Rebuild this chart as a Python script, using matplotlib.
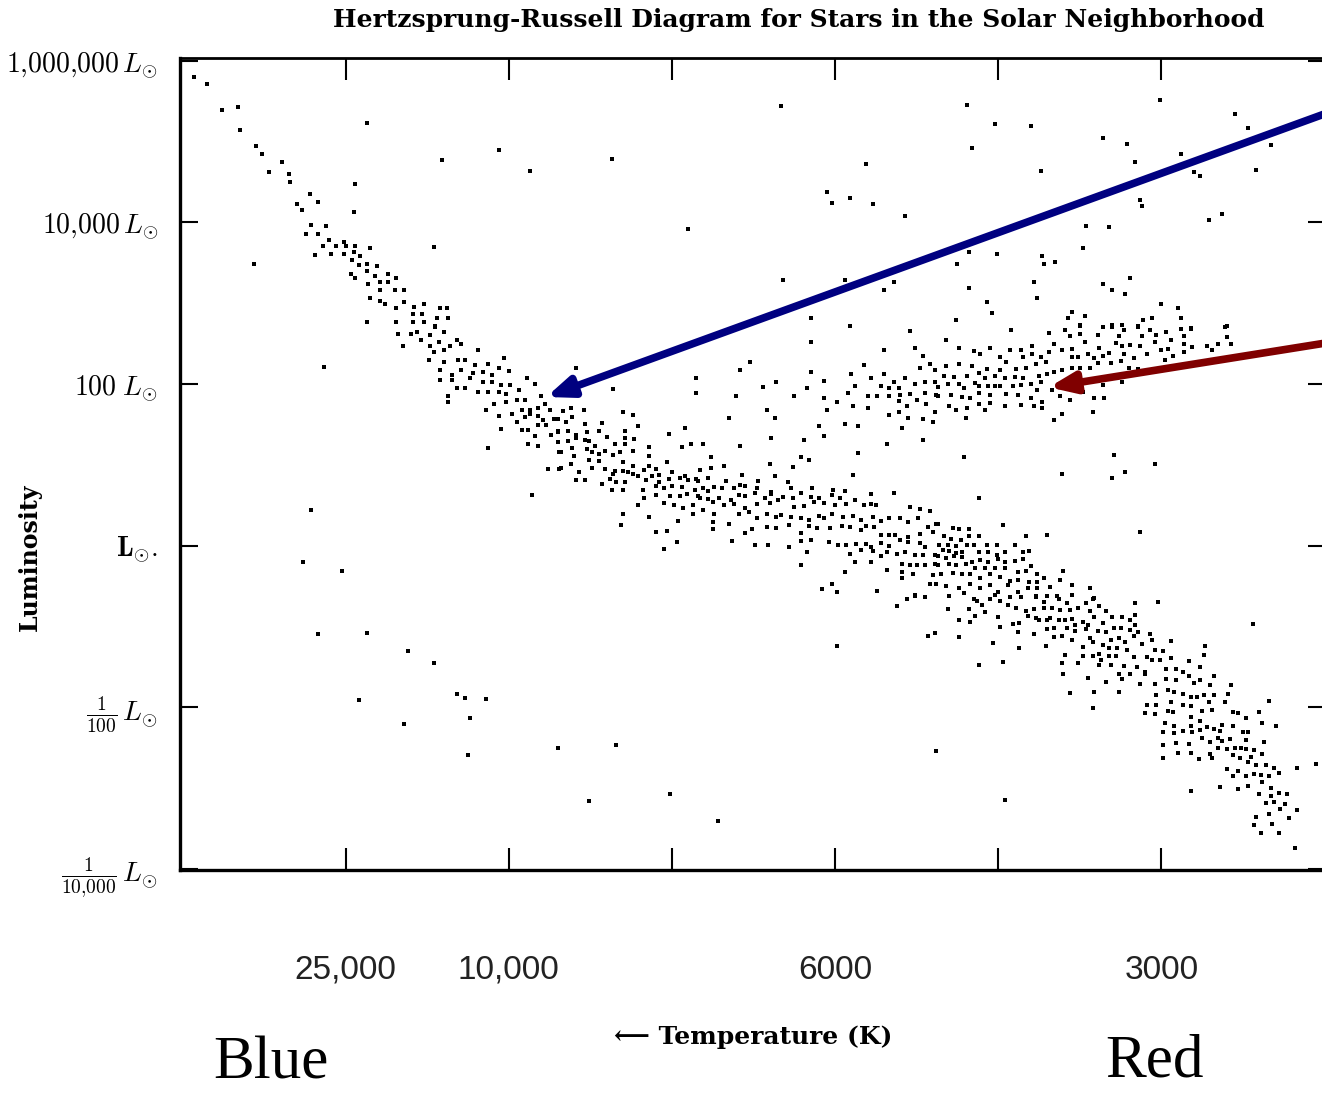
import matplotlib
matplotlib.use("Agg")
import matplotlib.pyplot as plt
import numpy as np

# ── Data: (temperature position, log10 L/Lsun) ──
# x: position along the temperature axis, tick units (1 = 25,000 K ... 6 = 3000 K)

upper_main_sequence = [
    [0.07, 5.80], [0.15, 5.71], [0.24, 5.39], [0.34, 5.43], [0.35, 5.14], [0.45, 4.95],
    [0.49, 4.85], [0.61, 4.75], [0.53, 4.62], [0.65, 4.60], [0.66, 4.50], [0.78, 4.35],
    [0.83, 4.25], [0.70, 4.23], [0.73, 4.15], [0.79, 3.97], [0.88, 3.96], [0.76, 3.86],
    [0.83, 3.86], [0.90, 3.78], [0.86, 3.71], [0.94, 3.71], [0.99, 3.76], [1.00, 3.71],
    [1.06, 3.71], [1.15, 3.68], [0.81, 3.60], [0.91, 3.61], [0.99, 3.61], [1.05, 3.63],
    [1.09, 3.58], [1.04, 3.53], [1.08, 3.47], [1.13, 3.49], [1.19, 3.46], [1.13, 3.40],
    [1.03, 3.36], [1.06, 3.31], [1.18, 3.34], [1.26, 3.36], [1.31, 3.31], [1.14, 3.24],
    [1.21, 3.26], [1.26, 3.26], [1.30, 3.16], [1.36, 3.16], [1.21, 3.16], [1.15, 3.06],
    [1.21, 3.03], [1.24, 2.99], [1.36, 3.01], [1.42, 2.95], [1.48, 2.99], [1.31, 2.94],
    [1.41, 2.87], [1.47, 2.87], [1.58, 2.94], [1.62, 2.94], [1.63, 2.82], [1.56, 2.82],
    [1.13, 2.77], [1.31, 2.77], [1.41, 2.77], [1.48, 2.77], [1.55, 2.72],
    [1.32, 2.62], [1.40, 2.62], [1.44, 2.64], [1.52, 2.61], [1.55, 2.71], [1.60, 2.64],
    [1.35, 2.47], [1.46, 2.54], [1.52, 2.47], [1.54, 2.40], [1.57, 2.52], [1.60, 2.42],
    [1.64, 2.47], [1.68, 2.54], [1.71, 2.50], [1.81, 2.42], [1.51, 2.30], [1.60, 2.27],
    [1.69, 2.30], [1.73, 2.30], [1.71, 2.17], [1.79, 2.24], [1.87, 2.25], [1.94, 2.20],
    [1.97, 2.32], [1.58, 2.17], [1.65, 2.11], [1.78, 2.14], [1.84, 2.15], [1.90, 2.11],
    [2.00, 2.16], [1.58, 2.05], [1.65, 2.05], [1.76, 2.07], [1.84, 2.02], [1.90, 2.02],
    [1.95, 1.99], [2.01, 1.99], [2.11, 2.07], [2.16, 2.00], [1.68, 1.95], [1.73, 1.95],
    [1.81, 1.90], [1.87, 1.90], [1.94, 1.90], [1.98, 1.88], [2.06, 1.93], [2.20, 1.85],
    [1.63, 1.85], [1.63, 1.78], [1.91, 1.75], [1.98, 1.78], [2.05, 1.80], [2.10, 1.80],
    [2.22, 1.75], [1.86, 1.68], [1.94, 1.60], [2.02, 1.63], [2.08, 1.68], [2.13, 1.68],
    [2.18, 1.70], [2.25, 1.68], [2.05, 1.53], [2.10, 1.59], [2.13, 1.63], [2.18, 1.60],
    [2.21, 1.55], [2.28, 1.57], [2.08, 1.43], [2.12, 1.43], [2.18, 1.49], [2.23, 1.49],
    [2.26, 1.37], [2.30, 1.41], [1.95, 1.44], [2.16, 1.36], [2.12, 1.26], [2.18, 1.23],
    [1.87, 1.21], [2.30, 1.28], [2.31, 1.16], [2.24, 0.95], [2.31, 0.95], [2.14, 0.63],
]

main_sequence = [
    [2.33, 1.67], [2.38, 1.70], [2.46, 1.68], [2.70, 1.65], [2.76, 1.62], [2.30, 1.57],
    [2.35, 1.53], [2.39, 1.59], [2.47, 1.50], [2.57, 1.52], [2.79, 1.48], [2.30, 1.42],
    [2.36, 1.42], [2.41, 1.37], [2.48, 1.41], [2.55, 1.42], [2.71, 1.42], [2.98, 1.38],
    [2.30, 1.28], [2.36, 1.30], [2.41, 1.33], [2.47, 1.31], [2.49, 1.30], [2.53, 1.23],
    [2.60, 1.34], [2.65, 1.26], [2.71, 1.33], [2.77, 1.32], [2.71, 1.26], [2.86, 1.22],
    [3.06, 1.22], [3.12, 1.26], [3.19, 1.26], [3.42, 1.23], [3.61, 1.33], [3.93, 1.36],
    [3.81, 1.31], [4.32, 1.26], [4.54, 1.31],
    [2.32, 1.16], [2.39, 1.21], [2.48, 1.20], [2.51, 1.16], [2.55, 1.13], [2.59, 1.17],
    [2.68, 1.16], [2.76, 1.17], [2.40, 1.11], [2.49, 1.06], [2.55, 1.05], [2.64, 1.12],
    [2.70, 1.03], [2.76, 0.99], [2.86, 1.11], [2.86, 0.99], [3.24, 1.10], [2.97, 1.03],
    [2.38, 1.01], [2.32, 0.96], [2.51, 0.96], [2.59, 0.95], [2.65, 0.92], [2.70, 0.92],
    [2.73, 0.91], [3.17, 0.93], [3.24, 0.96], [3.32, 0.98], [3.60, 1.01], [3.74, 0.97],
    [3.79, 1.10], [3.84, 1.06], [4.14, 1.15], [4.11, 0.87],
    [2.43, 0.91], [2.64, 0.89], [2.76, 0.89], [2.79, 0.86], [2.83, 0.94], [2.90, 0.95],
    [2.88, 0.86], [2.92, 0.88], [3.00, 0.91], [3.08, 0.86], [3.15, 0.82], [2.41, 0.81],
    [2.47, 0.81], [2.57, 0.76], [2.62, 0.83], [2.66, 0.79], [2.71, 0.79], [2.84, 0.81],
    [2.92, 0.79], [2.98, 0.82], [3.05, 0.84], [3.10, 0.81], [3.16, 0.80], [3.22, 0.84],
    [3.26, 0.73], [3.33, 0.80], [3.43, 0.87], [3.42, 0.75], [3.53, 0.80], [3.63, 0.86],
    [3.71, 0.79],
    [2.63, 0.69], [2.70, 0.69], [2.82, 0.69], [2.90, 0.74], [2.95, 0.71], [3.00, 0.74],
    [3.06, 0.72], [3.14, 0.69], [3.19, 0.71], [3.22, 0.68], [3.31, 0.71], [3.38, 0.71],
    [3.45, 0.74], [3.52, 0.71], [3.61, 0.66], [3.73, 0.71], [3.86, 0.71], [3.99, 0.69],
    [4.06, 0.68], [4.36, 0.65], [4.22, 0.64],
    [2.83, 0.59], [2.90, 0.63], [2.99, 0.61], [3.05, 0.61], [3.09, 0.64], [3.16, 0.61],
    [3.22, 0.58], [3.29, 0.59], [3.36, 0.56], [3.41, 0.63], [3.45, 0.61], [3.51, 0.65],
    [3.57, 0.59], [3.61, 0.64], [3.68, 0.60], [3.74, 0.59], [3.79, 0.65], [3.85, 0.60],
    [3.90, 0.59], [3.98, 0.63], [4.03, 0.59], [4.12, 0.56], [4.22, 0.51],
    [2.79, 0.50], [2.95, 0.53], [3.01, 0.50], [3.07, 0.47], [3.13, 0.50], [3.17, 0.59],
    [3.25, 0.54], [3.32, 0.50], [3.38, 0.51], [3.45, 0.46], [3.52, 0.51], [3.60, 0.53],
    [3.65, 0.56], [3.75, 0.48], [3.81, 0.49], [3.87, 0.54], [3.93, 0.53], [4.00, 0.50],
    [4.07, 0.51], [4.18, 0.50], [4.25, 0.50], [4.46, 0.48], [4.52, 0.45], [4.58, 0.43],
    [2.70, 0.39], [2.86, 0.35], [3.04, 0.30], [3.13, 0.39], [3.19, 0.44], [3.25, 0.29],
    [3.26, 0.39], [3.35, 0.27], [3.41, 0.39], [3.47, 0.42], [3.52, 0.34], [3.58, 0.39],
    [3.64, 0.35], [3.67, 0.38], [3.73, 0.35], [3.79, 0.34], [3.84, 0.32], [3.90, 0.37],
    [3.93, 0.34], [3.98, 0.39], [4.05, 0.35], [4.11, 0.37], [4.16, 0.32], [4.23, 0.35],
    [4.28, 0.30], [4.33, 0.34], [4.40, 0.34], [4.45, 0.29], [4.51, 0.34], [4.62, 0.27],
    [4.57, 0.23],
    [2.69, 0.25], [2.90, 0.17], [2.97, 0.18], [3.25, 0.20], [3.45, 0.16], [3.49, 0.20],
    [3.58, 0.23], [3.64, 0.22], [3.72, 0.25], [3.79, 0.16], [3.84, 0.24], [3.89, 0.22],
    [3.97, 0.22], [4.04, 0.24], [4.09, 0.23], [4.16, 0.19], [4.19, 0.24], [4.24, 0.23],
    [4.28, 0.13], [4.33, 0.13], [4.37, 0.13], [4.45, 0.11], [4.52, 0.14], [4.60, 0.17],
    [3.37, 0.06], [3.03, 0.04], [3.51, 0.01], [3.59, 0.01], [3.72, -0.02], [3.79, 0.06],
    [3.85, 0.07], [3.96, 0.04], [4.02, 0.01], [4.07, 0.01], [4.13, 0.02], [4.19, 0.02],
    [4.22, -0.02], [4.28, 0.03], [4.33, -0.01], [4.40, 0.07], [4.45, 0.04], [4.52, 0.03],
    [4.55, -0.02],
    [2.95, -0.04], [3.83, -0.08], [4.09, -0.10], [4.16, -0.05], [4.23, -0.07], [4.28, -0.13],
    [4.32, -0.08], [4.38, -0.10], [4.43, -0.08], [4.49, -0.11], [4.54, -0.11], [4.61, -0.11],
    [3.79, -0.24], [4.12, -0.20], [4.22, -0.20], [4.32, -0.30], [4.41, -0.23], [4.46, -0.24],
    [4.50, -0.24], [4.55, -0.24], [4.61, -0.23], [4.06, -0.33], [4.41, -0.33], [4.48, -0.35],
    [4.60, -0.36], [4.41, -0.40], [4.58, -0.48], [3.98, -0.48], [3.92, -0.54], [4.01, -0.58],
    [4.26, -0.56], [4.49, -0.61], [4.55, -0.63], [4.44, -0.66],
]

lower_main_sequence = [
    [4.63, 0.27], [4.72, 0.22], [4.76, 0.21], [4.82, 0.21], [4.82, 0.12], [4.88, 0.12],
    [5.03, 0.25], [5.17, 0.12], [5.30, 0.13], [5.87, 0.17], [4.67, 0.12], [4.71, 0.08],
    [4.77, 0.07], [4.64, 0.01], [4.69, 0.01], [4.74, -0.01], [4.81, 0.01], [4.85, 0.01],
    [4.93, 0.01], [4.99, 0.01], [5.10, 0.01], [4.66, -0.05], [4.70, -0.07], [4.74, -0.09],
    [4.78, -0.08], [4.88, -0.08], [4.94, -0.08], [4.99, -0.12], [5.04, -0.08], [5.15, -0.08],
    [5.19, -0.07], [4.63, -0.13], [4.68, -0.15], [4.73, -0.13], [4.78, -0.14], [4.84, -0.20],
    [4.89, -0.18], [4.94, -0.20], [5.00, -0.17], [5.04, -0.20], [5.10, -0.19], [5.15, -0.17],
    [5.20, -0.25], [4.63, -0.24], [4.70, -0.23], [4.74, -0.24], [4.80, -0.23], [4.86, -0.28],
    [4.92, -0.28], [4.98, -0.28], [5.04, -0.28], [5.12, -0.33], [5.17, -0.31], [5.24, -0.35],
    [5.28, -0.40], [5.40, -0.31], [4.65, -0.35], [4.72, -0.34], [4.78, -0.35], [4.83, -0.35],
    [4.89, -0.40], [4.95, -0.35], [5.01, -0.39], [5.07, -0.44], [5.12, -0.43], [5.19, -0.45],
    [5.24, -0.45], [5.32, -0.51], [5.38, -0.43], [5.45, -0.49], [4.62, -0.48], [4.68, -0.50],
    [4.76, -0.53], [4.83, -0.48], [4.89, -0.53], [4.95, -0.49], [5.00, -0.58], [5.06, -0.49],
    [5.12, -0.58], [5.18, -0.53], [5.24, -0.53], [5.30, -0.62], [5.36, -0.62], [5.45, -0.61],
    [5.56, -0.52], [5.58, -0.66], [4.70, -0.62], [4.79, -0.59], [4.85, -0.66], [4.98, -0.61],
    [5.07, -0.63], [5.14, -0.63], [5.23, -0.62],
    [4.38, -0.75], [4.44, -0.66], [4.49, -0.62], [4.55, -0.64],
    [4.69, -0.78], [4.82, -0.78], [4.87, -0.69], [4.90, -0.74], [4.95, -0.66], [5.01, -0.69],
    [5.06, -0.74], [5.11, -0.77], [5.17, -0.81], [5.22, -0.78], [5.23, -0.64], [5.28, -0.77],
    [5.28, -0.70], [5.33, -0.77], [5.37, -0.66], [5.38, -0.80], [5.42, -0.71], [5.44, -0.80],
    [5.49, -0.77], [5.54, -0.71], [5.59, -0.65], [5.62, -0.75], [5.56, -0.81], [5.66, -0.81],
    [5.84, -0.71], [5.98, -0.70], [5.84, -0.86],
    [4.76, -0.92], [4.83, -0.95], [4.86, -0.87], [4.92, -0.82], [5.00, -0.88], [5.01, -1.01],
    [5.09, -0.97], [5.13, -0.96], [5.18, -0.87], [5.23, -0.90], [5.25, -0.92], [5.30, -0.92],
    [5.32, -0.90], [5.37, -0.92], [5.41, -0.92], [5.45, -0.91], [5.47, -0.98], [5.52, -0.95],
    [5.55, -0.98], [5.59, -0.88], [5.64, -0.96], [5.70, -0.88], [5.76, -0.88], [5.81, -0.92],
    [5.84, -0.98], [5.12, -1.07], [5.22, -1.09], [5.30, -1.03], [5.34, -1.02], [5.42, -1.02],
    [5.47, -1.06], [5.54, -1.03], [5.61, -1.06], [5.66, -1.07], [5.71, -1.02], [5.75, -1.02],
    [5.81, -1.04], [5.86, -1.07], [5.93, -1.09], [4.76, -1.13],
    [4.97, -1.21], [5.13, -1.27], [5.29, -1.24], [5.34, -1.13], [5.39, -1.12], [5.45, -1.17],
    [5.52, -1.26], [5.56, -1.14], [5.58, -1.19], [5.64, -1.23], [5.69, -1.17], [5.74, -1.14],
    [5.78, -1.19], [5.83, -1.12], [5.88, -1.22], [5.94, -1.17], [5.96, -1.29], [6.01, -1.30],
    [6.06, -1.18], [6.27, -1.24], [5.68, -1.27], [5.73, -1.27], [5.58, -1.37], [5.62, -1.34],
    [5.63, -1.42], [5.41, -1.35], [5.52, -1.37], [5.68, -1.37], [5.72, -1.37], [5.79, -1.29],
    [5.83, -1.38], [5.91, -1.38], [5.94, -1.42], [5.99, -1.42], [6.06, -1.39], [6.17, -1.43],
    [6.26, -1.35], [5.39, -1.45], [5.49, -1.45], [5.62, -1.48], [5.69, -1.48], [5.77, -1.49],
    [5.85, -1.50], [5.90, -1.56], [6.03, -1.53], [6.09, -1.53], [6.13, -1.56], [6.24, -1.50],
    [4.88, -1.48], [5.03, -1.44], [5.40, -1.59], [5.55, -1.64], [5.66, -1.69], [5.74, -1.59],
    [5.76, -1.65], [5.81, -1.59], [5.87, -1.71], [5.90, -1.59], [5.96, -1.71], [6.03, -1.65],
    [6.09, -1.66], [6.17, -1.61], [6.20, -1.70], [6.24, -1.66], [6.30, -1.73], [6.32, -1.61],
    [6.43, -1.73],
    [5.44, -1.82], [5.59, -1.81], [5.74, -1.81], [5.97, -1.85], [6.04, -1.79], [6.08, -1.81],
    [6.13, -1.84], [6.18, -1.87], [6.22, -1.87], [6.26, -1.85], [6.32, -1.85], [6.41, -1.84],
    [6.66, -1.92], [5.58, -2.01], [5.91, -1.97], [5.97, -1.97], [5.90, -2.07], [5.96, -2.08],
    [6.06, -1.94], [6.13, -1.97], [6.18, -1.99], [6.25, -2.05], [6.29, -1.94], [6.31, -2.04],
    [6.39, -1.94], [6.44, -2.06], [6.47, -2.07], [6.52, -2.13], [6.60, -2.06], [6.04, -2.05],
    [6.07, -2.06], [6.18, -2.12], [6.24, -2.17],
    [6.02, -2.20], [6.08, -2.23], [6.13, -2.29], [6.18, -2.23], [6.19, -2.31], [6.24, -2.28],
    [6.28, -2.25], [6.32, -2.27], [6.37, -2.22], [6.36, -2.29], [6.44, -2.23], [6.50, -2.31],
    [6.53, -2.31], [6.62, -2.20], [6.70, -2.23], [6.01, -2.31], [6.08, -2.32], [6.01, -2.47],
    [6.09, -2.44], [6.17, -2.46], [6.25, -2.38], [6.30, -2.43], [6.35, -2.38], [6.37, -2.42],
    [6.42, -2.39], [6.52, -2.41], [6.63, -2.43],
    [6.01, -2.63], [6.10, -2.57], [6.18, -2.57], [6.23, -2.64], [6.30, -2.58], [6.31, -2.63],
    [6.35, -2.51], [6.40, -2.52], [6.45, -2.51], [6.49, -2.51], [6.52, -2.52], [6.57, -2.53],
    [6.44, -2.59], [6.48, -2.63], [6.55, -2.62], [6.62, -2.58], [6.53, -2.68], [6.58, -2.72],
    [6.64, -2.72], [6.69, -2.75], [6.40, -2.76], [6.47, -2.79], [6.83, -2.75], [6.95, -2.70],
    [6.44, -2.85], [6.52, -2.85], [6.57, -2.83], [6.61, -2.84], [6.66, -2.85], [6.72, -2.81],
    [6.18, -3.04], [6.36, -2.99], [6.47, -3.01], [6.53, -2.98], [6.62, -2.93], [6.67, -3.00],
    [6.60, -3.07], [6.67, -3.10], [6.72, -3.06], [6.77, -3.07], [6.64, -3.19], [6.69, -3.17],
    [6.76, -3.20], [6.73, -3.26], [6.83, -3.27], [6.66, -3.32], [6.78, -3.37], [6.58, -3.36],
    [6.57, -3.46], [6.68, -3.45], [6.61, -3.56], [6.72, -3.56], [6.82, -3.74],
]

giants = [
    [5.08, 2.67], [5.31, 2.63], [5.41, 2.67], [5.44, 2.59], [5.50, 2.62], [5.50, 2.72],
    [5.61, 2.61], [5.64, 2.70], [5.70, 2.70], [5.74, 2.60], [5.77, 2.67], [5.86, 2.70],
    [5.88, 2.59], [5.93, 2.67], [5.97, 2.61], [6.03, 2.64], [6.12, 2.68], [6.18, 2.68],
    [6.14, 2.59], [6.39, 2.71], [6.40, 2.58], [4.68, 2.54], [4.76, 2.45], [4.85, 2.41],
    [4.89, 2.37], [4.95, 2.45], [5.01, 2.33], [5.07, 2.42], [5.14, 2.42], [5.15, 2.33],
    [5.21, 2.47], [5.21, 2.37], [5.26, 2.33], [5.31, 2.40], [5.34, 2.50], [5.39, 2.42],
    [5.45, 2.43], [5.45, 2.33], [5.49, 2.33], [5.53, 2.52], [5.55, 2.37], [5.59, 2.32],
    [5.62, 2.45], [5.64, 2.35], [5.68, 2.38], [5.72, 2.51], [5.76, 2.47], [5.77, 2.37],
    [5.81, 2.48], [5.83, 2.32], [5.87, 2.47], [5.91, 2.37], [5.96, 2.52], [6.00, 2.42],
    [6.04, 2.43], [6.07, 2.35], [6.14, 2.40], [6.19, 2.46], [6.14, 2.50], [6.28, 2.47],
    [6.31, 2.42], [6.35, 2.50], [6.43, 2.50], [6.06, 2.54], [6.02, 2.30],
    [4.61, 2.17], [4.68, 2.22], [4.76, 2.25], [4.84, 2.22], [4.93, 2.19], [5.01, 2.17],
    [5.05, 2.27], [5.11, 2.19], [5.17, 2.20], [5.23, 2.25], [5.29, 2.27], [5.34, 2.15],
    [5.39, 2.17], [5.45, 2.20], [5.50, 2.20], [5.56, 2.20], [5.61, 2.26], [5.69, 2.26],
    [5.75, 2.28], [5.80, 2.20], [5.86, 2.19], [4.67, 2.10], [4.73, 2.09], [4.81, 2.10],
    [4.88, 2.14], [4.92, 2.07], [4.98, 2.10], [5.04, 2.07], [5.10, 2.09], [5.15, 2.07],
    [5.25, 2.10], [5.30, 2.12], [4.63, 1.96], [4.69, 2.00], [4.76, 2.00], [4.79, 1.95],
    [4.86, 2.01], [4.88, 1.98], [4.94, 1.98], [4.98, 1.98], [5.01, 1.98], [5.09, 1.98],
    [5.14, 1.99], [5.20, 2.00], [5.26, 2.02], [5.64, 1.99], [5.76, 2.02], [4.63, 1.85],
    [4.71, 1.86], [4.78, 1.84], [4.83, 1.83], [4.88, 1.89], [4.95, 1.86], [5.05, 1.88],
    [5.12, 1.86], [5.20, 1.83], [5.24, 1.93], [5.33, 1.93], [5.38, 1.85], [5.44, 1.80],
    [5.52, 1.90], [5.59, 1.83], [5.65, 1.83], [4.70, 1.73], [4.74, 1.68], [4.81, 1.70],
    [4.88, 1.75], [4.92, 1.68], [4.95, 1.76], [5.04, 1.73], [5.14, 1.74], [5.22, 1.73],
    [5.27, 1.78], [5.27, 1.70], [4.80, 1.58], [5.34, 1.55], [5.39, 1.63], [5.58, 1.65],
    [4.46, 2.66], [3.85, 2.52], [4.30, 2.42], [4.49, 2.45], [4.54, 2.35], [4.18, 2.24],
    [4.52, 2.20], [4.58, 2.25], [3.85, 2.15], [4.10, 2.12], [4.22, 2.07], [4.30, 2.12],
    [4.36, 2.02], [4.43, 2.07], [4.49, 2.00], [4.55, 2.02], [4.61, 2.02], [4.28, 1.98],
    [4.33, 1.95], [4.39, 1.95], [3.83, 1.95], [3.93, 2.04], [4.12, 1.98], [4.08, 1.89],
    [4.20, 1.85], [4.26, 1.85], [4.33, 1.85], [4.40, 1.86], [4.46, 1.88], [4.55, 1.89],
    [4.62, 1.86], [3.75, 1.85], [3.93, 1.83], [4.01, 1.78], [4.39, 1.79], [4.44, 1.73],
    [4.50, 1.80], [4.56, 1.75], [4.11, 1.73], [4.20, 1.70], [3.95, 1.68], [4.33, 1.62],
    [4.39, 1.65], [4.45, 1.58], [4.54, 1.57], [4.61, 1.66], [4.60, 1.53], [3.90, 1.48],
    [4.06, 1.50], [4.14, 1.48], [4.41, 1.45],
    [5.52, 3.68], [4.82, 3.63], [4.99, 3.61], [4.75, 3.49], [5.27, 3.58], [5.28, 3.49],
    [5.35, 3.51], [5.22, 3.26], [4.82, 3.19], [5.24, 3.06], [5.64, 3.24], [5.70, 3.16],
    [5.81, 3.31], [5.78, 3.11], [4.93, 3.01], [4.96, 2.88], [6.00, 2.99], [6.10, 2.94],
    [6.12, 2.82], [4.74, 2.79], [5.45, 2.89], [5.53, 2.84], [5.43, 2.82], [5.50, 2.73],
    [5.70, 2.73], [5.76, 2.73], [5.86, 2.72], [5.89, 2.79], [5.94, 2.82], [6.18, 2.69],
    [6.40, 2.72],
]

supergiants = [
    [1.13, 5.23], [1.06, 4.48], [1.59, 4.77], [1.94, 4.90], [2.13, 4.64], [1.05, 4.13],
    [1.54, 3.70], [0.44, 3.49], [0.87, 2.21],
    [3.67, 5.44], [2.63, 4.78], [4.19, 4.72], [3.95, 4.38], [3.98, 4.24], [4.09, 4.30],
    [4.23, 4.23], [4.43, 4.08], [3.10, 3.92], [3.68, 3.29], [4.06, 3.29], [4.30, 3.16],
    [4.36, 3.26], [3.85, 2.82], [4.09, 2.72],
    [5.99, 5.51], [4.81, 5.45], [4.98, 5.22], [5.20, 5.19], [4.84, 4.92], [5.64, 5.04],
    [5.79, 4.97], [5.84, 4.75], [5.26, 4.64], [6.45, 5.34], [6.53, 5.17], [6.12, 4.85],
    [6.20, 4.62], [6.24, 4.57], [6.67, 4.96], [6.58, 4.65], [5.87, 4.28], [5.88, 4.20],
    [6.29, 4.03], [6.37, 4.10], [5.54, 3.96], [5.68, 3.94],
]

field_stars = [
    [2.41, 2.20], [3.48, 2.27], [3.42, 2.17], [3.15, 2.07], [2.64, 1.94], [3.15, 1.89],
    [3.39, 1.85], [3.56, 1.96], [3.64, 2.02], [3.58, 1.68], [3.63, 1.58], [3.35, 1.58],
    [3.08, 1.45], [4.79, 1.10], [5.71, 1.12], [5.78, 0.91], [5.70, 0.84], [5.39, 0.89],
    [5.96, 1.01], [4.88, 0.59], [0.79, 0.44], [0.74, -0.20], [0.98, -0.31], [6.56, -0.97],
    [4.57, -1.12], [4.61, -1.08], [4.01, -1.24], [4.62, -2.54], [5.04, -3.15],
]

white_dwarfs = [
    [0.83, -1.09], [1.13, -1.08], [1.38, -1.30], [1.54, -1.45], [1.08, -1.91], [1.68, -1.84],
    [1.73, -1.89], [1.86, -1.90], [1.36, -2.21], [1.76, -2.13], [1.75, -2.59], [2.30, -2.50],
    [2.66, -2.47], [2.49, -3.16], [2.99, -3.07], [3.28, -3.41],
]

temp_ticks = [1, 2, 3, 4, 5, 6]
temp_labels = ["25,000", "10,000", "", "6000", "", "3000"]
lum_ticks = [-4, -2, 0, 2, 4, 6]
lum_labels = [
    r"$\frac{1}{10{,}000}\,L_{\odot}$",
    r"$\frac{1}{100}\,L_{\odot}$",
    r"$\mathbf{L}_{\odot}.$",
    r"$100\;L_{\odot}$",
    r"$10{,}000\,L_{\odot}$",
    r"$1{,}000{,}000\,L_{\odot}$",
]

# arrows pointing at main sequence (blue) and giant branch (red)
ms_arrow = {"tip": (2.23, 1.84), "tail": (7.2, 5.49), "color": "#000080"}
giant_arrow = {"tip": (5.31, 1.96), "tail": (7.2, 2.57), "color": "#800000"}

plt.rcParams["mathtext.fontset"] = "cm"

fig = plt.figure(figsize=(13.22, 10.93), dpi=100)
ax = fig.add_axes([0.1362, 0.2040, 0.8669, 0.7429])

for group in (upper_main_sequence, main_sequence, lower_main_sequence,
              giants, supergiants, field_stars, white_dwarfs):
    pts = np.array(group)
    ax.scatter(pts[:, 0], pts[:, 1], s=9, marker="s", c="black",
               linewidths=0, zorder=2)

ax.set_xlim(-0.015, 7.01)
ax.set_ylim(-4.015, 6.035)

ax.set_xticks(temp_ticks, temp_labels)
ax.set_yticks(lum_ticks, lum_labels)
ax.tick_params(axis="both", direction="in", top=True, right=True,
               labeltop=False, labelright=False, width=1.5, colors="black")
ax.tick_params(axis="x", length=16, pad=61, labelsize=24, labelcolor="#222222")
ax.tick_params(axis="y", length=13, pad=16, labelsize=20)
for lbl in ax.get_xticklabels():
    lbl.set_fontfamily("Liberation Sans")

for side, lw in (("left", 2.4), ("bottom", 2.4), ("top", 2.0), ("right", 1.8)):
    ax.spines[side].set_linewidth(lw)

for arr in (ms_arrow, giant_arrow):
    ax.annotate("", xy=arr["tip"], xytext=arr["tail"],
                arrowprops=dict(arrowstyle="-|>,head_length=1.5,head_width=0.6",
                                lw=5.5, color=arr["color"], shrinkA=0, shrinkB=0,
                                mutation_scale=10),
                annotation_clip=False, zorder=3)

fig.text(0.604, 0.982, "Hertzsprung-Russell Diagram for Stars in the Solar Neighborhood",
         ha="center", va="center", fontsize=18, fontweight="bold", family="DejaVu Serif")
fig.text(0.0227, 0.490, "Luminosity", rotation=90, ha="center", va="center",
         fontsize=17, fontweight="bold", family="DejaVu Serif")
fig.text(0.570, 0.051, "\u27f5 Temperature (K)", ha="center", va="center",
         fontsize=18, fontweight="bold", family=["DejaVu Serif", "DejaVu Sans"])
fig.text(0.205, 0.001, "Blue", ha="center", va="bottom", fontsize=44,
         family="Liberation Serif")
fig.text(0.873, 0.003, "Red", ha="center", va="bottom", fontsize=44,
         family="Liberation Serif")

fig.savefig("out.png", dpi=100, facecolor="white")
